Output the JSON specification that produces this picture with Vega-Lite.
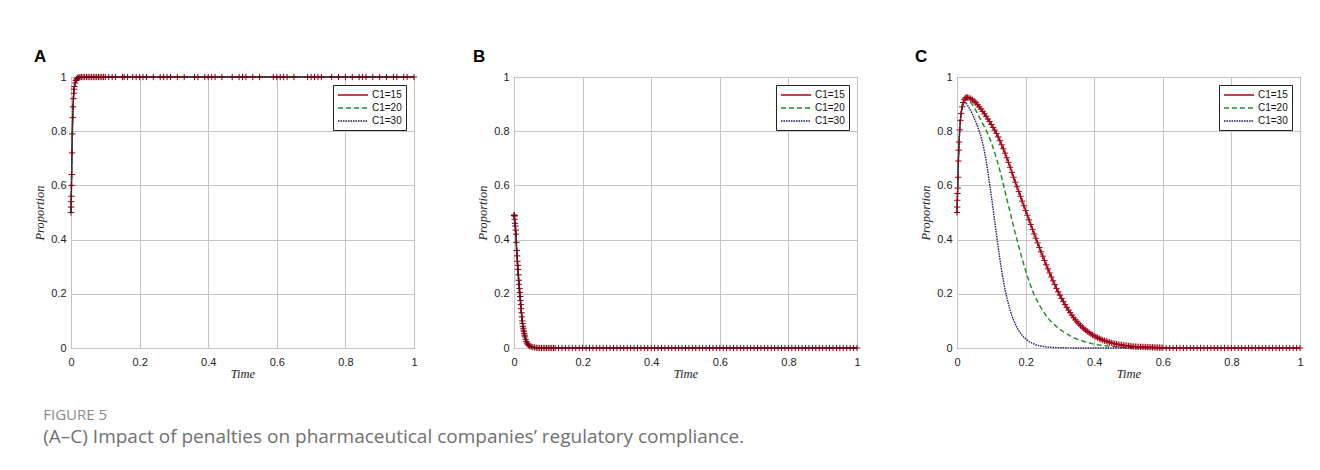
{
  "$schema": "https://vega.github.io/schema/vega-lite/v6.json",
  "autosize": {"type": "pad"},
  "padding": {"left": 33, "top": 47, "right": 5, "bottom": 5},
  "background": "white",
  "bounds": "flush",
  "spacing": 100,
  "title": {
    "text": "FIGURE 5",
    "subtitle": "(A–C) Impact of penalties on pharmaceutical companies’ regulatory compliance.",
    "orient": "bottom",
    "anchor": "start",
    "frame": "bounds",
    "dx": 10,
    "offset": 28,
    "font": "Open Sans",
    "fontSize": 15,
    "fontWeight": "normal",
    "color": "#8a8a8a",
    "subtitleFont": "Open Sans",
    "subtitleFontSize": 19,
    "subtitleColor": "#707070",
    "subtitlePadding": 5
  },
  "datasets": {
    "A": [
      {"s":"C1=15","t":0,"y":0.5},{"s":"C1=15","t":0.0003,"y":0.52},{"s":"C1=15","t":0.0006,"y":0.54},{"s":"C1=15","t":0.001,"y":0.56},{"s":"C1=15","t":0.0015,"y":0.6},{"s":"C1=15","t":0.002,"y":0.64},{"s":"C1=15","t":0.003,"y":0.72},{"s":"C1=15","t":0.004,"y":0.79},{"s":"C1=15","t":0.005,"y":0.85},{"s":"C1=15","t":0.006,"y":0.89},{"s":"C1=15","t":0.007,"y":0.92},{"s":"C1=15","t":0.008,"y":0.94},{"s":"C1=15","t":0.009,"y":0.955},{"s":"C1=15","t":0.01,"y":0.965},{"s":"C1=15","t":0.012,"y":0.978},{"s":"C1=15","t":0.014,"y":0.987},{"s":"C1=15","t":0.016,"y":0.992},{"s":"C1=15","t":0.018,"y":0.995},{"s":"C1=15","t":0.02,"y":0.997},{"s":"C1=15","t":0.023,"y":0.998},{"s":"C1=15","t":0.026,"y":0.999},{"s":"C1=15","t":0.03,"y":1},{"s":"C1=15","t":0.035,"y":1},{"s":"C1=15","t":0.04,"y":1},{"s":"C1=15","t":0.045,"y":1},{"s":"C1=15","t":0.05,"y":1},{"s":"C1=15","t":0.055,"y":1},{"s":"C1=15","t":0.06,"y":1},{"s":"C1=15","t":0.065,"y":1},{"s":"C1=15","t":0.07,"y":1},{"s":"C1=15","t":0.075,"y":1},{"s":"C1=15","t":0.08,"y":1},{"s":"C1=15","t":0.085,"y":1},{"s":"C1=15","t":0.09,"y":1},{"s":"C1=15","t":0.095,"y":1},{"s":"C1=15","t":0.1,"y":1},{"s":"C1=15","t":0.11,"y":1},{"s":"C1=15","t":0.12,"y":1},{"s":"C1=15","t":0.13,"y":1},{"s":"C1=15","t":0.15,"y":1},{"s":"C1=15","t":0.155,"y":1},{"s":"C1=15","t":0.165,"y":1},{"s":"C1=15","t":0.18,"y":1},{"s":"C1=15","t":0.19,"y":1},{"s":"C1=15","t":0.2,"y":1},{"s":"C1=15","t":0.21,"y":1},{"s":"C1=15","t":0.22,"y":1},{"s":"C1=15","t":0.24,"y":1},{"s":"C1=15","t":0.26,"y":1},{"s":"C1=15","t":0.27,"y":1},{"s":"C1=15","t":0.28,"y":1},{"s":"C1=15","t":0.29,"y":1},{"s":"C1=15","t":0.31,"y":1},{"s":"C1=15","t":0.33,"y":1},{"s":"C1=15","t":0.36,"y":1},{"s":"C1=15","t":0.37,"y":1},{"s":"C1=15","t":0.39,"y":1},{"s":"C1=15","t":0.4,"y":1},{"s":"C1=15","t":0.41,"y":1},{"s":"C1=15","t":0.42,"y":1},{"s":"C1=15","t":0.44,"y":1},{"s":"C1=15","t":0.47,"y":1},{"s":"C1=15","t":0.49,"y":1},{"s":"C1=15","t":0.5,"y":1},{"s":"C1=15","t":0.51,"y":1},{"s":"C1=15","t":0.53,"y":1},{"s":"C1=15","t":0.55,"y":1},{"s":"C1=15","t":0.59,"y":1},{"s":"C1=15","t":0.6,"y":1},{"s":"C1=15","t":0.61,"y":1},{"s":"C1=15","t":0.62,"y":1},{"s":"C1=15","t":0.63,"y":1},{"s":"C1=15","t":0.65,"y":1},{"s":"C1=15","t":0.69,"y":1},{"s":"C1=15","t":0.7,"y":1},{"s":"C1=15","t":0.71,"y":1},{"s":"C1=15","t":0.72,"y":1},{"s":"C1=15","t":0.73,"y":1},{"s":"C1=15","t":0.76,"y":1},{"s":"C1=15","t":0.78,"y":1},{"s":"C1=15","t":0.8,"y":1},{"s":"C1=15","t":0.82,"y":1},{"s":"C1=15","t":0.84,"y":1},{"s":"C1=15","t":0.85,"y":1},{"s":"C1=15","t":0.86,"y":1},{"s":"C1=15","t":0.88,"y":1},{"s":"C1=15","t":0.9,"y":1},{"s":"C1=15","t":0.92,"y":1},{"s":"C1=15","t":0.94,"y":1},{"s":"C1=15","t":0.95,"y":1},{"s":"C1=15","t":0.97,"y":1},{"s":"C1=15","t":0.98,"y":1},{"s":"C1=15","t":1,"y":1},
      {"s":"C1=20","t":0,"y":0.5},{"s":"C1=20","t":0.002,"y":0.66},{"s":"C1=20","t":0.004,"y":0.8},{"s":"C1=20","t":0.006,"y":0.89},{"s":"C1=20","t":0.008,"y":0.94},{"s":"C1=20","t":0.01,"y":0.965},{"s":"C1=20","t":0.013,"y":0.984},{"s":"C1=20","t":0.016,"y":0.993},{"s":"C1=20","t":0.02,"y":0.997},{"s":"C1=20","t":0.03,"y":1},{"s":"C1=20","t":1,"y":1},
      {"s":"C1=30","t":0,"y":0.5},{"s":"C1=30","t":0.002,"y":0.67},{"s":"C1=30","t":0.004,"y":0.81},{"s":"C1=30","t":0.006,"y":0.9},{"s":"C1=30","t":0.008,"y":0.945},{"s":"C1=30","t":0.01,"y":0.97},{"s":"C1=30","t":0.013,"y":0.986},{"s":"C1=30","t":0.016,"y":0.994},{"s":"C1=30","t":0.02,"y":0.998},{"s":"C1=30","t":0.03,"y":1},{"s":"C1=30","t":1,"y":1}
    ],
    "B": [
      {"s":"C1=15","t":0,"y":0.49},{"s":"C1=15","t":0.0005,"y":0.49},{"s":"C1=15","t":0.001,"y":0.489},{"s":"C1=15","t":0.0015,"y":0.487},{"s":"C1=15","t":0.002,"y":0.475},{"s":"C1=15","t":0.003,"y":0.46},{"s":"C1=15","t":0.004,"y":0.45},{"s":"C1=15","t":0.005,"y":0.435},{"s":"C1=15","t":0.006,"y":0.42},{"s":"C1=15","t":0.007,"y":0.39},{"s":"C1=15","t":0.008,"y":0.36},{"s":"C1=15","t":0.009,"y":0.34},{"s":"C1=15","t":0.01,"y":0.32},{"s":"C1=15","t":0.011,"y":0.305},{"s":"C1=15","t":0.012,"y":0.29},{"s":"C1=15","t":0.013,"y":0.27},{"s":"C1=15","t":0.014,"y":0.25},{"s":"C1=15","t":0.015,"y":0.235},{"s":"C1=15","t":0.016,"y":0.22},{"s":"C1=15","t":0.017,"y":0.205},{"s":"C1=15","t":0.018,"y":0.19},{"s":"C1=15","t":0.019,"y":0.175},{"s":"C1=15","t":0.02,"y":0.16},{"s":"C1=15","t":0.021,"y":0.145},{"s":"C1=15","t":0.022,"y":0.13},{"s":"C1=15","t":0.023,"y":0.115},{"s":"C1=15","t":0.024,"y":0.1},{"s":"C1=15","t":0.025,"y":0.09},{"s":"C1=15","t":0.026,"y":0.08},{"s":"C1=15","t":0.027,"y":0.073},{"s":"C1=15","t":0.028,"y":0.066},{"s":"C1=15","t":0.029,"y":0.06},{"s":"C1=15","t":0.03,"y":0.053},{"s":"C1=15","t":0.031,"y":0.047},{"s":"C1=15","t":0.032,"y":0.041},{"s":"C1=15","t":0.034,"y":0.032},{"s":"C1=15","t":0.036,"y":0.024},{"s":"C1=15","t":0.038,"y":0.018},{"s":"C1=15","t":0.04,"y":0.014},{"s":"C1=15","t":0.043,"y":0.01},{"s":"C1=15","t":0.046,"y":0.007},{"s":"C1=15","t":0.05,"y":0.005},{"s":"C1=15","t":0.055,"y":0.003},{"s":"C1=15","t":0.06,"y":0.002},{"s":"C1=15","t":0.065,"y":0.001},{"s":"C1=15","t":0.07,"y":0},{"s":"C1=15","t":0.075,"y":0},{"s":"C1=15","t":0.08,"y":0},{"s":"C1=15","t":0.085,"y":0},{"s":"C1=15","t":0.09,"y":0},{"s":"C1=15","t":0.095,"y":0},{"s":"C1=15","t":0.1,"y":0},{"s":"C1=15","t":0.105,"y":0},{"s":"C1=15","t":0.11,"y":0},{"s":"C1=15","t":0.115,"y":0},{"s":"C1=15","t":0.12,"y":0},{"s":"C1=15","t":0.13,"y":0},{"s":"C1=15","t":0.14,"y":0},{"s":"C1=15","t":0.15,"y":0},{"s":"C1=15","t":0.16,"y":0},{"s":"C1=15","t":0.17,"y":0},{"s":"C1=15","t":0.18,"y":0},{"s":"C1=15","t":0.19,"y":0},{"s":"C1=15","t":0.2,"y":0},{"s":"C1=15","t":0.21,"y":0},{"s":"C1=15","t":0.22,"y":0},{"s":"C1=15","t":0.23,"y":0},{"s":"C1=15","t":0.24,"y":0},{"s":"C1=15","t":0.25,"y":0},{"s":"C1=15","t":0.26,"y":0},{"s":"C1=15","t":0.27,"y":0},{"s":"C1=15","t":0.28,"y":0},{"s":"C1=15","t":0.29,"y":0},{"s":"C1=15","t":0.3,"y":0},{"s":"C1=15","t":0.31,"y":0},{"s":"C1=15","t":0.32,"y":0},{"s":"C1=15","t":0.33,"y":0},{"s":"C1=15","t":0.34,"y":0},{"s":"C1=15","t":0.35,"y":0},{"s":"C1=15","t":0.36,"y":0},{"s":"C1=15","t":0.37,"y":0},{"s":"C1=15","t":0.38,"y":0},{"s":"C1=15","t":0.39,"y":0},{"s":"C1=15","t":0.4,"y":0},{"s":"C1=15","t":0.41,"y":0},{"s":"C1=15","t":0.42,"y":0},{"s":"C1=15","t":0.43,"y":0},{"s":"C1=15","t":0.44,"y":0},{"s":"C1=15","t":0.45,"y":0},{"s":"C1=15","t":0.46,"y":0},{"s":"C1=15","t":0.47,"y":0},{"s":"C1=15","t":0.48,"y":0},{"s":"C1=15","t":0.49,"y":0},{"s":"C1=15","t":0.5,"y":0},{"s":"C1=15","t":0.51,"y":0},{"s":"C1=15","t":0.52,"y":0},{"s":"C1=15","t":0.53,"y":0},{"s":"C1=15","t":0.54,"y":0},{"s":"C1=15","t":0.55,"y":0},{"s":"C1=15","t":0.56,"y":0},{"s":"C1=15","t":0.57,"y":0},{"s":"C1=15","t":0.58,"y":0},{"s":"C1=15","t":0.59,"y":0},{"s":"C1=15","t":0.6,"y":0},{"s":"C1=15","t":0.61,"y":0},{"s":"C1=15","t":0.62,"y":0},{"s":"C1=15","t":0.63,"y":0},{"s":"C1=15","t":0.64,"y":0},{"s":"C1=15","t":0.65,"y":0},{"s":"C1=15","t":0.66,"y":0},{"s":"C1=15","t":0.67,"y":0},{"s":"C1=15","t":0.68,"y":0},{"s":"C1=15","t":0.69,"y":0},{"s":"C1=15","t":0.7,"y":0},{"s":"C1=15","t":0.71,"y":0},{"s":"C1=15","t":0.72,"y":0},{"s":"C1=15","t":0.73,"y":0},{"s":"C1=15","t":0.74,"y":0},{"s":"C1=15","t":0.75,"y":0},{"s":"C1=15","t":0.76,"y":0},{"s":"C1=15","t":0.77,"y":0},{"s":"C1=15","t":0.78,"y":0},{"s":"C1=15","t":0.79,"y":0},{"s":"C1=15","t":0.8,"y":0},{"s":"C1=15","t":0.81,"y":0},{"s":"C1=15","t":0.82,"y":0},{"s":"C1=15","t":0.83,"y":0},{"s":"C1=15","t":0.84,"y":0},{"s":"C1=15","t":0.85,"y":0},{"s":"C1=15","t":0.86,"y":0},{"s":"C1=15","t":0.87,"y":0},{"s":"C1=15","t":0.88,"y":0},{"s":"C1=15","t":0.89,"y":0},{"s":"C1=15","t":0.9,"y":0},{"s":"C1=15","t":0.91,"y":0},{"s":"C1=15","t":0.92,"y":0},{"s":"C1=15","t":0.93,"y":0},{"s":"C1=15","t":0.94,"y":0},{"s":"C1=15","t":0.95,"y":0},{"s":"C1=15","t":0.96,"y":0},{"s":"C1=15","t":0.97,"y":0},{"s":"C1=15","t":0.98,"y":0},{"s":"C1=15","t":0.99,"y":0},{"s":"C1=15","t":1,"y":0},
      {"s":"C1=20","t":0,"y":0.49},{"s":"C1=20","t":0.005,"y":0.43},{"s":"C1=20","t":0.01,"y":0.31},{"s":"C1=20","t":0.015,"y":0.22},{"s":"C1=20","t":0.02,"y":0.15},{"s":"C1=20","t":0.025,"y":0.09},{"s":"C1=20","t":0.03,"y":0.05},{"s":"C1=20","t":0.035,"y":0.027},{"s":"C1=20","t":0.04,"y":0.014},{"s":"C1=20","t":0.05,"y":0.005},{"s":"C1=20","t":0.06,"y":0.001},{"s":"C1=20","t":0.07,"y":0},{"s":"C1=20","t":1,"y":0},
      {"s":"C1=30","t":0,"y":0.49},{"s":"C1=30","t":0.005,"y":0.42},{"s":"C1=30","t":0.01,"y":0.3},{"s":"C1=30","t":0.015,"y":0.21},{"s":"C1=30","t":0.02,"y":0.14},{"s":"C1=30","t":0.025,"y":0.085},{"s":"C1=30","t":0.03,"y":0.045},{"s":"C1=30","t":0.035,"y":0.024},{"s":"C1=30","t":0.04,"y":0.012},{"s":"C1=30","t":0.05,"y":0.004},{"s":"C1=30","t":0.06,"y":0.001},{"s":"C1=30","t":0.07,"y":0},{"s":"C1=30","t":1,"y":0}
    ],
    "C": [
      {"s":"C1=15","t":0,"y":0.5},{"s":"C1=15","t":0.0005,"y":0.52},{"s":"C1=15","t":0.001,"y":0.545},{"s":"C1=15","t":0.0015,"y":0.57},{"s":"C1=15","t":0.002,"y":0.59},{"s":"C1=15","t":0.003,"y":0.63},{"s":"C1=15","t":0.004,"y":0.69},{"s":"C1=15","t":0.005,"y":0.73},{"s":"C1=15","t":0.006,"y":0.76},{"s":"C1=15","t":0.008,"y":0.805},{"s":"C1=15","t":0.01,"y":0.84},{"s":"C1=15","t":0.012,"y":0.865},{"s":"C1=15","t":0.015,"y":0.89},{"s":"C1=15","t":0.018,"y":0.906},{"s":"C1=15","t":0.021,"y":0.916},{"s":"C1=15","t":0.024,"y":0.922},{"s":"C1=15","t":0.027,"y":0.925},{"s":"C1=15","t":0.03,"y":0.925},{"s":"C1=15","t":0.035,"y":0.923},{"s":"C1=15","t":0.04,"y":0.92},{"s":"C1=15","t":0.045,"y":0.916},{"s":"C1=15","t":0.05,"y":0.911},{"s":"C1=15","t":0.055,"y":0.905},{"s":"C1=15","t":0.06,"y":0.898},{"s":"C1=15","t":0.065,"y":0.89},{"s":"C1=15","t":0.07,"y":0.882},{"s":"C1=15","t":0.075,"y":0.873},{"s":"C1=15","t":0.08,"y":0.864},{"s":"C1=15","t":0.085,"y":0.855},{"s":"C1=15","t":0.09,"y":0.845},{"s":"C1=15","t":0.095,"y":0.835},{"s":"C1=15","t":0.1,"y":0.825},{"s":"C1=15","t":0.105,"y":0.814},{"s":"C1=15","t":0.11,"y":0.804},{"s":"C1=15","t":0.115,"y":0.792},{"s":"C1=15","t":0.12,"y":0.779},{"s":"C1=15","t":0.125,"y":0.765},{"s":"C1=15","t":0.13,"y":0.75},{"s":"C1=15","t":0.135,"y":0.735},{"s":"C1=15","t":0.14,"y":0.719},{"s":"C1=15","t":0.145,"y":0.702},{"s":"C1=15","t":0.15,"y":0.685},{"s":"C1=15","t":0.155,"y":0.667},{"s":"C1=15","t":0.16,"y":0.648},{"s":"C1=15","t":0.165,"y":0.63},{"s":"C1=15","t":0.17,"y":0.612},{"s":"C1=15","t":0.175,"y":0.595},{"s":"C1=15","t":0.18,"y":0.577},{"s":"C1=15","t":0.185,"y":0.56},{"s":"C1=15","t":0.19,"y":0.542},{"s":"C1=15","t":0.195,"y":0.525},{"s":"C1=15","t":0.2,"y":0.507},{"s":"C1=15","t":0.205,"y":0.49},{"s":"C1=15","t":0.21,"y":0.473},{"s":"C1=15","t":0.215,"y":0.456},{"s":"C1=15","t":0.22,"y":0.438},{"s":"C1=15","t":0.225,"y":0.421},{"s":"C1=15","t":0.23,"y":0.405},{"s":"C1=15","t":0.235,"y":0.388},{"s":"C1=15","t":0.24,"y":0.371},{"s":"C1=15","t":0.245,"y":0.355},{"s":"C1=15","t":0.25,"y":0.339},{"s":"C1=15","t":0.255,"y":0.323},{"s":"C1=15","t":0.26,"y":0.307},{"s":"C1=15","t":0.265,"y":0.292},{"s":"C1=15","t":0.27,"y":0.277},{"s":"C1=15","t":0.275,"y":0.262},{"s":"C1=15","t":0.28,"y":0.248},{"s":"C1=15","t":0.285,"y":0.234},{"s":"C1=15","t":0.29,"y":0.22},{"s":"C1=15","t":0.295,"y":0.207},{"s":"C1=15","t":0.3,"y":0.195},{"s":"C1=15","t":0.305,"y":0.183},{"s":"C1=15","t":0.31,"y":0.171},{"s":"C1=15","t":0.315,"y":0.16},{"s":"C1=15","t":0.32,"y":0.15},{"s":"C1=15","t":0.325,"y":0.14},{"s":"C1=15","t":0.33,"y":0.13},{"s":"C1=15","t":0.335,"y":0.121},{"s":"C1=15","t":0.34,"y":0.112},{"s":"C1=15","t":0.345,"y":0.104},{"s":"C1=15","t":0.35,"y":0.097},{"s":"C1=15","t":0.355,"y":0.09},{"s":"C1=15","t":0.36,"y":0.083},{"s":"C1=15","t":0.365,"y":0.077},{"s":"C1=15","t":0.37,"y":0.071},{"s":"C1=15","t":0.375,"y":0.066},{"s":"C1=15","t":0.38,"y":0.061},{"s":"C1=15","t":0.385,"y":0.057},{"s":"C1=15","t":0.39,"y":0.052},{"s":"C1=15","t":0.395,"y":0.048},{"s":"C1=15","t":0.4,"y":0.045},{"s":"C1=15","t":0.405,"y":0.041},{"s":"C1=15","t":0.41,"y":0.038},{"s":"C1=15","t":0.415,"y":0.035},{"s":"C1=15","t":0.42,"y":0.032},{"s":"C1=15","t":0.425,"y":0.029},{"s":"C1=15","t":0.43,"y":0.027},{"s":"C1=15","t":0.435,"y":0.025},{"s":"C1=15","t":0.44,"y":0.023},{"s":"C1=15","t":0.445,"y":0.021},{"s":"C1=15","t":0.45,"y":0.019},{"s":"C1=15","t":0.455,"y":0.017},{"s":"C1=15","t":0.46,"y":0.016},{"s":"C1=15","t":0.465,"y":0.014},{"s":"C1=15","t":0.47,"y":0.013},{"s":"C1=15","t":0.475,"y":0.012},{"s":"C1=15","t":0.48,"y":0.011},{"s":"C1=15","t":0.485,"y":0.01},{"s":"C1=15","t":0.49,"y":0.009},{"s":"C1=15","t":0.495,"y":0.0085},{"s":"C1=15","t":0.5,"y":0.008},{"s":"C1=15","t":0.505,"y":0.007},{"s":"C1=15","t":0.51,"y":0.006},{"s":"C1=15","t":0.515,"y":0.0055},{"s":"C1=15","t":0.52,"y":0.005},{"s":"C1=15","t":0.525,"y":0.0047},{"s":"C1=15","t":0.53,"y":0.0045},{"s":"C1=15","t":0.535,"y":0.0042},{"s":"C1=15","t":0.54,"y":0.004},{"s":"C1=15","t":0.545,"y":0.0037},{"s":"C1=15","t":0.55,"y":0.0035},{"s":"C1=15","t":0.555,"y":0.0032},{"s":"C1=15","t":0.56,"y":0.003},{"s":"C1=15","t":0.565,"y":0.0027},{"s":"C1=15","t":0.57,"y":0.0025},{"s":"C1=15","t":0.575,"y":0.0022},{"s":"C1=15","t":0.58,"y":0.002},{"s":"C1=15","t":0.585,"y":0.0017},{"s":"C1=15","t":0.59,"y":0.0015},{"s":"C1=15","t":0.595,"y":0.0012},{"s":"C1=15","t":0.6,"y":0.001},{"s":"C1=15","t":0.61,"y":0},{"s":"C1=15","t":0.62,"y":0},{"s":"C1=15","t":0.63,"y":0},{"s":"C1=15","t":0.64,"y":0},{"s":"C1=15","t":0.65,"y":0},{"s":"C1=15","t":0.66,"y":0},{"s":"C1=15","t":0.67,"y":0},{"s":"C1=15","t":0.68,"y":0},{"s":"C1=15","t":0.69,"y":0},{"s":"C1=15","t":0.7,"y":0},{"s":"C1=15","t":0.71,"y":0},{"s":"C1=15","t":0.72,"y":0},{"s":"C1=15","t":0.73,"y":0},{"s":"C1=15","t":0.74,"y":0},{"s":"C1=15","t":0.75,"y":0},{"s":"C1=15","t":0.76,"y":0},{"s":"C1=15","t":0.77,"y":0},{"s":"C1=15","t":0.78,"y":0},{"s":"C1=15","t":0.79,"y":0},{"s":"C1=15","t":0.8,"y":0},{"s":"C1=15","t":0.81,"y":0},{"s":"C1=15","t":0.82,"y":0},{"s":"C1=15","t":0.83,"y":0},{"s":"C1=15","t":0.84,"y":0},{"s":"C1=15","t":0.85,"y":0},{"s":"C1=15","t":0.86,"y":0},{"s":"C1=15","t":0.87,"y":0},{"s":"C1=15","t":0.88,"y":0},{"s":"C1=15","t":0.89,"y":0},{"s":"C1=15","t":0.9,"y":0},{"s":"C1=15","t":0.91,"y":0},{"s":"C1=15","t":0.92,"y":0},{"s":"C1=15","t":0.93,"y":0},{"s":"C1=15","t":0.94,"y":0},{"s":"C1=15","t":0.95,"y":0},{"s":"C1=15","t":0.96,"y":0},{"s":"C1=15","t":0.97,"y":0},{"s":"C1=15","t":0.98,"y":0},{"s":"C1=15","t":0.99,"y":0},{"s":"C1=15","t":1,"y":0},
      {"s":"C1=20","t":0,"y":0.5},{"s":"C1=20","t":0.002,"y":0.59},{"s":"C1=20","t":0.004,"y":0.69},{"s":"C1=20","t":0.006,"y":0.76},{"s":"C1=20","t":0.008,"y":0.81},{"s":"C1=20","t":0.01,"y":0.845},{"s":"C1=20","t":0.013,"y":0.875},{"s":"C1=20","t":0.016,"y":0.897},{"s":"C1=20","t":0.02,"y":0.912},{"s":"C1=20","t":0.025,"y":0.918},{"s":"C1=20","t":0.03,"y":0.917},{"s":"C1=20","t":0.035,"y":0.913},{"s":"C1=20","t":0.04,"y":0.906},{"s":"C1=20","t":0.045,"y":0.898},{"s":"C1=20","t":0.05,"y":0.888},{"s":"C1=20","t":0.055,"y":0.877},{"s":"C1=20","t":0.06,"y":0.865},{"s":"C1=20","t":0.065,"y":0.852},{"s":"C1=20","t":0.07,"y":0.84},{"s":"C1=20","t":0.075,"y":0.828},{"s":"C1=20","t":0.08,"y":0.816},{"s":"C1=20","t":0.085,"y":0.804},{"s":"C1=20","t":0.09,"y":0.79},{"s":"C1=20","t":0.095,"y":0.775},{"s":"C1=20","t":0.1,"y":0.758},{"s":"C1=20","t":0.105,"y":0.74},{"s":"C1=20","t":0.11,"y":0.72},{"s":"C1=20","t":0.115,"y":0.7},{"s":"C1=20","t":0.12,"y":0.678},{"s":"C1=20","t":0.125,"y":0.655},{"s":"C1=20","t":0.13,"y":0.63},{"s":"C1=20","t":0.135,"y":0.605},{"s":"C1=20","t":0.14,"y":0.578},{"s":"C1=20","t":0.145,"y":0.552},{"s":"C1=20","t":0.15,"y":0.526},{"s":"C1=20","t":0.155,"y":0.5},{"s":"C1=20","t":0.16,"y":0.474},{"s":"C1=20","t":0.165,"y":0.448},{"s":"C1=20","t":0.17,"y":0.423},{"s":"C1=20","t":0.175,"y":0.399},{"s":"C1=20","t":0.18,"y":0.375},{"s":"C1=20","t":0.185,"y":0.352},{"s":"C1=20","t":0.19,"y":0.329},{"s":"C1=20","t":0.195,"y":0.307},{"s":"C1=20","t":0.2,"y":0.286},{"s":"C1=20","t":0.205,"y":0.266},{"s":"C1=20","t":0.21,"y":0.247},{"s":"C1=20","t":0.215,"y":0.229},{"s":"C1=20","t":0.22,"y":0.212},{"s":"C1=20","t":0.225,"y":0.196},{"s":"C1=20","t":0.23,"y":0.183},{"s":"C1=20","t":0.235,"y":0.171},{"s":"C1=20","t":0.24,"y":0.159},{"s":"C1=20","t":0.245,"y":0.148},{"s":"C1=20","t":0.25,"y":0.138},{"s":"C1=20","t":0.26,"y":0.119},{"s":"C1=20","t":0.27,"y":0.103},{"s":"C1=20","t":0.28,"y":0.09},{"s":"C1=20","t":0.29,"y":0.079},{"s":"C1=20","t":0.3,"y":0.069},{"s":"C1=20","t":0.31,"y":0.06},{"s":"C1=20","t":0.32,"y":0.052},{"s":"C1=20","t":0.33,"y":0.045},{"s":"C1=20","t":0.34,"y":0.039},{"s":"C1=20","t":0.35,"y":0.033},{"s":"C1=20","t":0.36,"y":0.028},{"s":"C1=20","t":0.37,"y":0.024},{"s":"C1=20","t":0.38,"y":0.02},{"s":"C1=20","t":0.39,"y":0.017},{"s":"C1=20","t":0.4,"y":0.014},{"s":"C1=20","t":0.42,"y":0.01},{"s":"C1=20","t":0.44,"y":0.007},{"s":"C1=20","t":0.46,"y":0.005},{"s":"C1=20","t":0.48,"y":0.003},{"s":"C1=20","t":0.5,"y":0.002},{"s":"C1=20","t":0.55,"y":0.001},{"s":"C1=20","t":0.6,"y":0},{"s":"C1=20","t":1,"y":0},
      {"s":"C1=30","t":0,"y":0.5},{"s":"C1=30","t":0.002,"y":0.59},{"s":"C1=30","t":0.004,"y":0.69},{"s":"C1=30","t":0.006,"y":0.76},{"s":"C1=30","t":0.008,"y":0.81},{"s":"C1=30","t":0.01,"y":0.843},{"s":"C1=30","t":0.013,"y":0.872},{"s":"C1=30","t":0.016,"y":0.893},{"s":"C1=30","t":0.02,"y":0.905},{"s":"C1=30","t":0.025,"y":0.905},{"s":"C1=30","t":0.03,"y":0.898},{"s":"C1=30","t":0.035,"y":0.887},{"s":"C1=30","t":0.04,"y":0.876},{"s":"C1=30","t":0.045,"y":0.863},{"s":"C1=30","t":0.05,"y":0.849},{"s":"C1=30","t":0.055,"y":0.834},{"s":"C1=30","t":0.06,"y":0.818},{"s":"C1=30","t":0.065,"y":0.8},{"s":"C1=30","t":0.07,"y":0.78},{"s":"C1=30","t":0.075,"y":0.755},{"s":"C1=30","t":0.08,"y":0.725},{"s":"C1=30","t":0.085,"y":0.69},{"s":"C1=30","t":0.09,"y":0.65},{"s":"C1=30","t":0.095,"y":0.607},{"s":"C1=30","t":0.1,"y":0.562},{"s":"C1=30","t":0.105,"y":0.515},{"s":"C1=30","t":0.11,"y":0.467},{"s":"C1=30","t":0.115,"y":0.42},{"s":"C1=30","t":0.12,"y":0.373},{"s":"C1=30","t":0.125,"y":0.328},{"s":"C1=30","t":0.13,"y":0.287},{"s":"C1=30","t":0.135,"y":0.25},{"s":"C1=30","t":0.14,"y":0.217},{"s":"C1=30","t":0.145,"y":0.188},{"s":"C1=30","t":0.15,"y":0.162},{"s":"C1=30","t":0.155,"y":0.14},{"s":"C1=30","t":0.16,"y":0.12},{"s":"C1=30","t":0.165,"y":0.103},{"s":"C1=30","t":0.17,"y":0.088},{"s":"C1=30","t":0.175,"y":0.075},{"s":"C1=30","t":0.18,"y":0.064},{"s":"C1=30","t":0.185,"y":0.055},{"s":"C1=30","t":0.19,"y":0.047},{"s":"C1=30","t":0.195,"y":0.04},{"s":"C1=30","t":0.2,"y":0.034},{"s":"C1=30","t":0.21,"y":0.024},{"s":"C1=30","t":0.22,"y":0.017},{"s":"C1=30","t":0.23,"y":0.012},{"s":"C1=30","t":0.24,"y":0.008},{"s":"C1=30","t":0.25,"y":0.006},{"s":"C1=30","t":0.26,"y":0.004},{"s":"C1=30","t":0.28,"y":0.002},{"s":"C1=30","t":0.3,"y":0.001},{"s":"C1=30","t":0.35,"y":0},{"s":"C1=30","t":1,"y":0}
    ]
  },
  "hconcat": [
    {
      "width": 343, "height": 271,
      "title": {"text": "A", "frame": "group", "dx": -37},
      "data": {"name": "A"},
      "layer": [
        {"mark": {"type": "line", "strokeWidth": 1.4},
         "encoding": {
           "x": {"field": "t", "type": "quantitative", "scale": {"domain": [0, 1], "nice": false}, "axis": {"title": "Time", "values": [0, 0.2, 0.4, 0.6, 0.8, 1], "format": "~g"}},
           "y": {"field": "y", "type": "quantitative", "scale": {"domain": [0, 1], "nice": false}, "axis": {"title": "Proportion", "values": [0, 0.2, 0.4, 0.6, 0.8, 1], "format": "~g"}},
           "color": {"field": "s", "type": "nominal", "title": null, "scale": {"domain": ["C1=15", "C1=20", "C1=30"], "range": ["#b00016", "#1e8c1e", "#1c1c60"]}},
           "strokeDash": {"field": "s", "type": "nominal", "title": null, "scale": {"domain": ["C1=15", "C1=20", "C1=30"], "range": [[1, 0], [5, 3], [1.5, 1]]}}
         }},
        {"transform": [{"filter": "datum.s === 'C1=15'"}],
         "mark": {"type": "point", "shape": "M-1,0H1M0,-1V1", "size": 40, "filled": false, "color": "#7e0012", "strokeWidth": 1, "opacity": 1},
         "encoding": {"x": {"field": "t", "type": "quantitative"}, "y": {"field": "y", "type": "quantitative"}}}
      ]
    },
    {
      "width": 343, "height": 271,
      "title": {"text": "B", "frame": "group", "dx": -41},
      "data": {"name": "B"},
      "layer": [
        {"mark": {"type": "line", "strokeWidth": 1.4},
         "encoding": {
           "x": {"field": "t", "type": "quantitative", "scale": {"domain": [0, 1], "nice": false}, "axis": {"title": "Time", "values": [0, 0.2, 0.4, 0.6, 0.8, 1], "format": "~g"}},
           "y": {"field": "y", "type": "quantitative", "scale": {"domain": [0, 1], "nice": false}, "axis": {"title": "Proportion", "values": [0, 0.2, 0.4, 0.6, 0.8, 1], "format": "~g"}},
           "color": {"field": "s", "type": "nominal", "title": null, "scale": {"domain": ["C1=15", "C1=20", "C1=30"], "range": ["#b00016", "#1e8c1e", "#1c1c60"]}},
           "strokeDash": {"field": "s", "type": "nominal", "title": null, "scale": {"domain": ["C1=15", "C1=20", "C1=30"], "range": [[1, 0], [5, 3], [1.5, 1]]}}
         }},
        {"transform": [{"filter": "datum.s === 'C1=15'"}],
         "mark": {"type": "point", "shape": "M-1,0H1M0,-1V1", "size": 40, "filled": false, "color": "#7e0012", "strokeWidth": 1, "opacity": 1},
         "encoding": {"x": {"field": "t", "type": "quantitative"}, "y": {"field": "y", "type": "quantitative"}}}
      ]
    },
    {
      "width": 343, "height": 271,
      "title": {"text": "C", "frame": "group", "dx": -42},
      "data": {"name": "C"},
      "layer": [
        {"mark": {"type": "line", "strokeWidth": 1.4},
         "encoding": {
           "x": {"field": "t", "type": "quantitative", "scale": {"domain": [0, 1], "nice": false}, "axis": {"title": "Time", "values": [0, 0.2, 0.4, 0.6, 0.8, 1], "format": "~g"}},
           "y": {"field": "y", "type": "quantitative", "scale": {"domain": [0, 1], "nice": false}, "axis": {"title": "Proportion", "values": [0, 0.2, 0.4, 0.6, 0.8, 1], "format": "~g"}},
           "color": {"field": "s", "type": "nominal", "title": null, "scale": {"domain": ["C1=15", "C1=20", "C1=30"], "range": ["#b00016", "#1e8c1e", "#1c1c60"]}},
           "strokeDash": {"field": "s", "type": "nominal", "title": null, "scale": {"domain": ["C1=15", "C1=20", "C1=30"], "range": [[1, 0], [5, 3], [1.5, 1]]}}
         }},
        {"transform": [{"filter": "datum.s === 'C1=15'"}],
         "mark": {"type": "point", "shape": "M-1,0H1M0,-1V1", "size": 40, "filled": false, "color": "#a00016", "strokeWidth": 1, "opacity": 1},
         "encoding": {"x": {"field": "t", "type": "quantitative"}, "y": {"field": "y", "type": "quantitative"}}}
      ]
    }
  ],
  "resolve": {"legend": {"color": "independent", "strokeDash": "independent"}},
  "config": {
    "view": {"stroke": "#222", "strokeWidth": 1},
    "title": {"anchor": "start", "font": "Liberation Sans", "fontSize": 17, "fontWeight": "bold", "color": "#000", "offset": 5},
    "axis": {
      "grid": true, "gridColor": "#c4c4c4", "gridWidth": 1, "domain": false, "ticks": false,
      "labelFont": "Liberation Sans", "labelFontSize": 11, "labelColor": "#222", "labelFlush": false, "labelOverlap": false,
      "titleFont": "Liberation Serif", "titleFontStyle": "italic", "titleFontWeight": "normal", "titleFontSize": 12.5, "titleColor": "#222"
    },
    "axisX": {"labelPadding": 8, "titlePadding": 0},
    "axisY": {"labelPadding": 5, "titlePadding": 4},
    "legend": {
      "orient": "top-right", "offset": 8, "fillColor": "white", "strokeColor": "#222", "padding": 4,
      "labelFont": "Liberation Sans", "labelFontSize": 10, "labelColor": "#111", "labelOffset": 23,
      "symbolType": "M-1,0H5", "symbolSize": 100, "symbolStrokeWidth": 1.5, "rowPadding": 2, "cornerRadius": 0
    }
  }
}
